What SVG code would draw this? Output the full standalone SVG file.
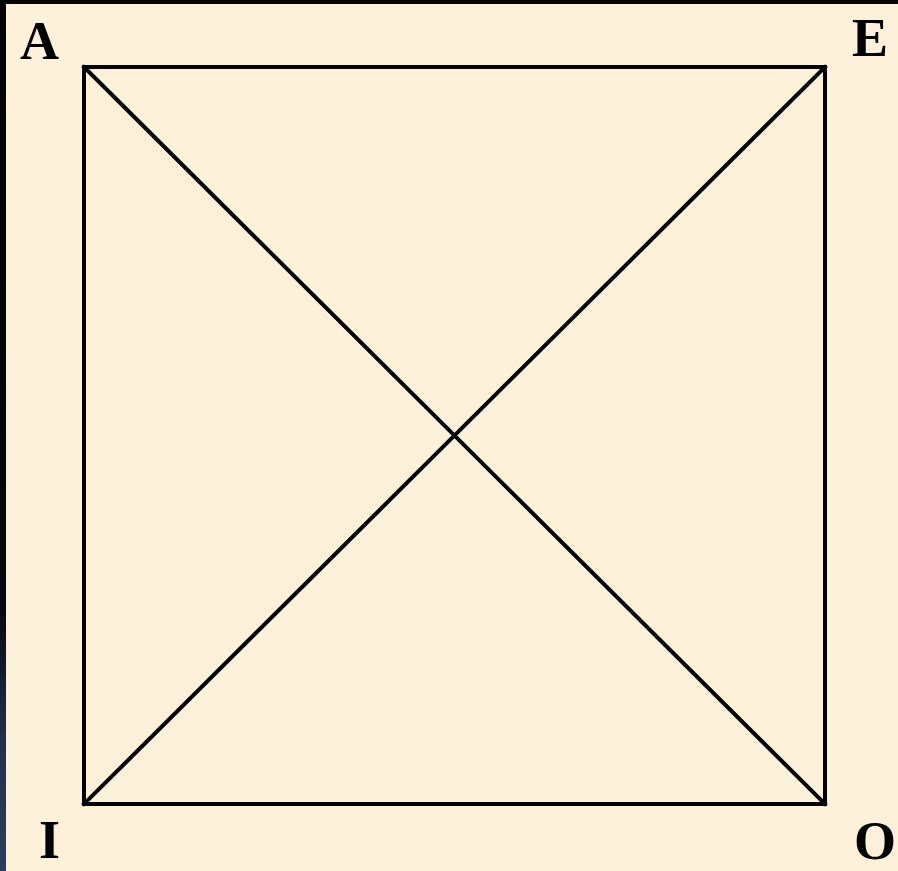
<svg xmlns="http://www.w3.org/2000/svg" width="898" height="871" viewBox="0 0 898 871">
<defs>
<linearGradient id="edge" x1="0" y1="0" x2="0" y2="1">
<stop offset="0" stop-color="#000000"/>
<stop offset="0.7" stop-color="#050810"/>
<stop offset="0.85" stop-color="#22304f"/>
<stop offset="1" stop-color="#2c3d60"/>
</linearGradient>
</defs>
<style>
.ln{stroke:#000;stroke-width:4;fill:none;stroke-linecap:square}
.lb{font-family:'Liberation Serif','Times New Roman',Times,serif;font-weight:700;font-size:54px;fill:#000}
</style>
<rect x="0" y="0" width="898" height="871" fill="#fdf1da"/>
<rect x="0" y="0" width="898" height="4" fill="#000"/>
<rect x="0" y="0" width="6" height="871" fill="url(#edge)"/>
<g id="connectors">
<rect class="ln" x="84" y="67" width="741" height="737"/>
<line class="ln" x1="84" y1="67" x2="825" y2="804"/>
<line class="ln" x1="825" y1="67" x2="84" y2="804"/>
</g>
<g id="A"><text class="lb" x="20" y="59">A</text></g>
<g id="E"><text class="lb" x="852" y="56">E</text></g>
<g id="I"><text class="lb" x="39" y="858">I</text></g>
<g id="O"><text class="lb" x="854" y="859">O</text></g>
</svg>
